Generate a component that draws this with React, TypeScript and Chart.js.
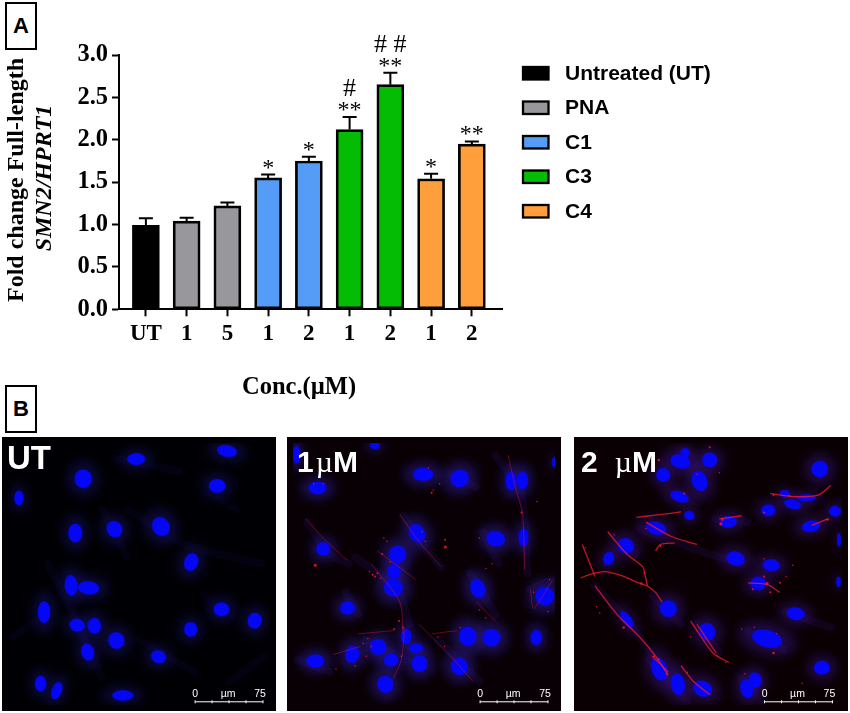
import React, { useEffect, useRef } from "react";
import { Chart, registerables } from "chart.js";
Chart.register(...registerables);

// ---- Panel A data ----
const categories = ["UT", "1", "5", "1", "2", "1", "2", "1", "2"];
const means = [0.99, 1.04, 1.22, 1.55, 1.75, 2.12, 2.65, 1.54, 1.95];
const errorTops = [1.075, 1.08, 1.26, 1.59, 1.8, 2.27, 2.79, 1.6, 1.98];
const groupOf = [0, 1, 1, 2, 2, 3, 3, 4, 4];
const groupNames = ["Untreated (UT)", "PNA", "C1", "C3", "C4"];
const groupColors = ["#000000", "#98989c", "#559cf7", "#04bc04", "#ff9f3c"];
const stars = ["", "", "", "*", "*", "**", "**", "*", "**"];
const hashes = ["", "", "", "", "", "#", "# #", "", ""];
const yTicks = [0, 0.5, 1, 1.5, 2, 2.5, 3];

// ---- Panel B data: nuclei as [x, y, halfLength x, halfLength y, angle], read in 3x crop units ----
const utNuclei = [[692,47,29,17,10],[407,72,26,17,0],[241,134,25,27,0],[661,156,24,20,0],[39,194,13,21,0],[216,304,20,27,0],[339,292,22,24,-30],[485,284,25,29,-30],[580,395,20,26,20],[203,468,18,30,-5],[258,476,31,19,5],[118,552,18,32,0],[675,543,23,20,0],[222,593,22,18,10],[276,595,19,23,0],[779,579,20,23,10],[578,606,19,21,0],[345,641,23,24,-20],[255,677,18,25,-15],[477,692,22,18,20],[107,776,16,23,0],[158,798,14,26,20],[365,813,31,15,0]];
const oneNuclei = [[413,120,30,19,0],[528,133,27,25,-25],[689,141,16,27,0],[725,139,16,26,0],[16,58,11,26,0],[262,30,14,10,0],[82,163,26,18,0],[394,305,22,28,-30],[641,322,27,22,15],[728,318,14,26,0],[100,354,20,20,0],[333,371,25,25,-30],[322,424,19,21,0],[320,475,28,26,30],[585,478,21,29,-20],[795,502,27,27,-10],[176,539,21,19,0],[360,628,15,23,0],[553,628,25,28,-10],[628,632,26,25,15],[768,631,16,22,0],[272,661,24,23,20],[191,684,20,25,10],[75,705,26,19,0],[313,702,21,19,0],[391,665,20,14,0],[402,714,23,24,0],[527,722,24,26,-30],[295,778,23,25,-20],[825,82,6,14,0]];
const twoNuclei = [[343,52,13,13,0],[328,80,30,20,15],[420,75,22,21,10],[274,122,20,20,0],[388,141,22,30,-20],[765,104,24,24,0],[325,190,28,15,20],[655,180,14,9,0],[722,194,27,10,0],[680,214,25,13,15],[604,233,20,17,0],[813,236,17,15,0],[356,249,15,12,20],[478,269,25,17,-5],[252,289,30,18,15],[738,283,27,16,-10],[157,344,24,21,25],[825,325,5,20,0],[501,384,27,20,15],[613,405,25,17,5],[824,457,6,15,0],[572,462,23,19,0],[103,384,15,19,20],[290,541,25,24,30],[690,557,26,18,10],[160,575,12,28,-35],[412,613,23,26,-25],[600,635,45,25,15],[262,730,22,35,-20],[772,726,23,20,0],[320,778,20,32,-10],[398,792,28,22,25],[536,792,18,27,-15],[563,765,18,22,-15]];

// faint cell bodies, [x0,y0,x1,y1,...]
const utCells = [[130,400,230,600,300,760],[300,230,380,380],[420,640,590,740],[620,500,700,560],[380,230,560,340,800,400],[700,770,810,690],[20,630,120,560],[640,180,720,230],[340,70,540,110],[210,560,270,720]];
const oneCells = [[50,270,120,370,180,400],[350,250,420,350,470,410],[200,380,330,480,370,590],[560,430,640,560],[460,640,590,770],[640,60,720,180,740,430],[20,700,120,740],[500,120,580,160],[170,490,210,560],[750,480,820,450],[600,300,650,400],[230,640,400,720]];
const twoCells = [[60,470,170,590,250,700],[240,500,330,590],[200,290,360,350,520,400],[540,610,650,670],[110,310,190,370],[380,590,450,680],[520,760,580,830],[230,700,300,780,350,830],[440,260,540,270],[660,550,800,600]];

// red fibres
const oneFibres = [[45,260,100,320,175,390],[340,245,400,330,470,410],[680,60,705,170,725,240,732,420],[215,660,130,685],[400,590,500,690,570,770],[250,400,340,520,350,620],[270,360,390,450],[580,520,640,580],[750,480,760,540,820,450],[355,600,345,700,320,760],[210,620,320,610],[440,620,520,610]];
const twoFibres = [[15,445,50,432,95,425,150,440,190,458,225,470],[100,300,160,370,210,410,218,440,225,470],[190,255,250,248,330,238],[220,270,300,315,380,340],[250,360,265,340,310,335],[225,470,250,490,270,520],[60,470,130,560,200,630,250,690,290,750],[360,580,430,680,480,710],[610,180,680,190,760,185,800,155],[740,280,790,260],[540,460,600,465,640,490],[330,720,370,770,420,810],[240,690,290,740],[450,260,520,250],[380,590,440,680],[20,340,60,440]];

// red specks [x, y, size]
const oneSpecks = [[75,405,3],[482,325,2],[483,348,3],[255,435,2],[262,440,2],[270,430,2],[285,370,2],[338,580,2],[722,240,2],[440,178,2],[445,170,1.5],[350,600,2],[322,606,2],[240,635,1.5],[225,650,1.5],[345,690,1.5],[200,720,1.5],[140,730,1.5],[465,150,1.5],[430,100,1.5],[70,150,1.5],[100,150,1.5],[410,300,1.5],[300,330,1.5],[290,320,1.5],[420,330,1.5],[590,320,1.5],[630,400,1.5],[610,415,1.5],[760,490,1.5],[810,450,1.5],[805,550,1.5],[460,630,1.5],[530,600,1.5],[480,660,1.5],[590,545,1.5],[610,570,1.5],[245,425,1.5],[280,445,1.5],[310,395,1.5],[250,660,1.5],[235,690,1.5],[770,205,1.5]];
const twoSpecks = [[455,275,3],[460,262,2.5],[600,462,3],[590,440,2],[620,680,2.5],[150,600,2.5],[420,35,2],[260,75,2.5],[790,262,2.5],[215,430,2],[205,462,2.5],[265,345,2],[590,240,2],[670,188,2],[620,185,2],[680,405,1.5],[640,460,2],[520,605,1.5],[560,600,1.5],[630,620,1.5],[710,775,1.5],[530,745,1.5],[350,740,1.5],[360,630,1.5],[470,710,1.5],[75,555,1.5],[65,535,1.5],[245,690,2],[260,700,2],[285,745,2],[340,180,2],[450,115,1.5],[380,120,1.5],[220,290,1.5],[120,310,1.5],[30,350,1.5],[590,385,1.5],[660,440,1.5],[555,480,2],[610,490,2],[380,610,1.5]];

function serif(size: number, style = "bold") { return `${style} ${size}px "Liberation Serif"`; }

const panelAPlugin = {
  id: "panelA",
  afterDatasetsDraw(chart: any) {
    const { ctx, scales } = chart;
    const { x, y } = scales;
    ctx.save();
    ctx.strokeStyle = "#000";
    ctx.lineWidth = 2;
    ctx.fillStyle = "#000";
    categories.forEach((_, i) => {
      const px = x.getPixelForValue(i);
      const top = y.getPixelForValue(errorTops[i]);
      const base = y.getPixelForValue(means[i]);
      ctx.beginPath();
      ctx.moveTo(px, base); ctx.lineTo(px, top);
      ctx.moveTo(px - 7, top); ctx.lineTo(px + 7, top);
      ctx.stroke();
      ctx.textAlign = "center";
      ctx.textBaseline = "alphabetic";
      if (stars[i]) {
        ctx.font = '24px "Liberation Serif"';
        ctx.fillText(stars[i], px, top);
      }
      if (hashes[i]) {
        ctx.font = '26px "Liberation Serif"';
        ctx.fillText(hashes[i], px, top - 21);
      }
    });
    // y title, two lines
    ctx.textAlign = "center";
    ctx.textBaseline = "middle";
    ctx.save();
    ctx.translate(17, 180);
    ctx.rotate(-Math.PI / 2);
    ctx.font = serif(24);
    ctx.fillText("Fold change Full-length", 0, 0);
    ctx.restore();
    ctx.save();
    ctx.translate(45, 178);
    ctx.rotate(-Math.PI / 2);
    ctx.font = serif(24, "italic bold");
    ctx.fillText("SMN2/HPRT1", 0, 0);
    ctx.restore();
    // x title
    ctx.font = serif(24.5);
    ctx.fillText("Conc.(µM)", 299, 388);
    // legend
    chart.data.datasets.forEach((ds: any, i: number) => {
      const ty = 73 + i * 34.5;
      ctx.fillStyle = ds.backgroundColor;
      ctx.fillRect(523, ty - 6, 25.5, 12.5);
      ctx.strokeStyle = "#000";
      ctx.lineWidth = 2.3;
      ctx.strokeRect(523, ty - 6, 25.5, 12.5);
      ctx.fillStyle = "#000";
      ctx.textAlign = "left";
      ctx.textBaseline = "middle";
      ctx.font = 'bold 21px "Liberation Sans"';
      ctx.fillText(ds.label, 565, ty + 1);
    });
    ctx.restore();
  },
};

function BarPanel() {
  const ref = useRef<HTMLCanvasElement | null>(null);
  useEffect(() => {
    const chart = new Chart(ref.current!, {
      type: "bar",
      data: {
        datasets: groupNames.map((label, g) => ({
          label,
          backgroundColor: groupColors[g],
          borderColor: "#000",
          borderWidth: 2.7,
          borderSkipped: false,
          barThickness: 27,
          grouped: false,
          data: means.map((v, i) => ({ x: i, y: v, g: groupOf[i] })).filter((d) => d.g === g),
        })),
      } as any,
      options: {
        responsive: false,
        animation: false,
        devicePixelRatio: 1,
        layout: { padding: { left: 0, right: 348, top: 55, bottom: 0 } },
        plugins: { legend: { display: false }, tooltip: { enabled: false } },
        scales: {
          x: {
            type: "linear",
            offset: false,
            min: -0.66,
            max: 8.74,
            afterBuildTicks: (s: any) => { s.ticks = categories.map((_, i) => ({ value: i })); },
            afterFit: (s: any) => { s.height = 100.7; },
            ticks: {
              autoSkip: false, maxRotation: 0, padding: 4, color: "#000",
              font: { family: "Liberation Serif", weight: "bold", size: 23 },
              callback: (v: any) => categories[v],
            },
            grid: { offset: false, drawOnChartArea: false, drawTicks: true, tickLength: 7, tickWidth: 2, tickColor: "#000" },
            border: { color: "#000", width: 2 },
          },
          y: {
            min: 0,
            max: 3,
            afterBuildTicks: (s: any) => { s.ticks = yTicks.map((value) => ({ value })); },
            afterFit: (s: any) => { s.width = 119; },
            ticks: {
              padding: 4, color: "#000",
              font: { family: "Liberation Serif", weight: "bold", size: 24.5 },
              callback: (v: any) => Number(v).toFixed(1),
            },
            grid: { drawOnChartArea: false, drawTicks: true, tickLength: 7, tickWidth: 2, tickColor: "#000" },
            border: { color: "#000", width: 2 },
          },
        },
      } as any,
      plugins: [panelAPlugin],
    });
    return () => chart.destroy();
  }, []);
  return <canvas ref={ref} width={850} height={410} style={{ position: "absolute", left: 0, top: 0 }} />;
}

function sprite(rx: number, ry: number, color: string, blur: number) {
  const pad = Math.ceil(blur * 3) + 2;
  const r = Math.ceil(Math.max(rx, ry)) + pad;
  const c = document.createElement("canvas");
  c.width = 2 * r; c.height = 2 * r;
  const g = c.getContext("2d")!;
  g.filter = `blur(${blur}px)`;
  g.fillStyle = color;
  g.beginPath();
  g.ellipse(r, r, rx, ry, 0, 0, Math.PI * 2);
  g.fill();
  return c;
}

function polyData(flat: number[]) {
  const pts: any[] = [];
  for (let i = 0; i < flat.length; i += 2) pts.push({ x: flat[i], y: flat[i + 1] });
  return pts;
}

function makeScalePlugin(ox: number) {
  return {
    id: "scaleBar",
    afterDatasetsDraw(chart: any) {
      const { ctx, scales } = chart;
      const { x, y } = scales;
      const l = x.getPixelForValue(592 + ox);
      const r = x.getPixelForValue(805 + ox);
      const b = y.getPixelForValue(833);
      ctx.save();
      ctx.strokeStyle = "#fff";
      ctx.fillStyle = "#fff";
      ctx.lineWidth = 1;
      ctx.beginPath();
      ctx.moveTo(l, b); ctx.lineTo(r, b);
      for (let k = 0; k <= 4; k++) {
        const px = l + ((r - l) * k) / 4;
        ctx.moveTo(px, b - 1.5); ctx.lineTo(px, b + 1.5);
      }
      ctx.stroke();
      ctx.font = '10.5px "Liberation Sans"';
      ctx.textAlign = "center";
      ctx.textBaseline = "middle";
      const ty = y.getPixelForValue(810);
      ctx.fillText("0", l, ty);
      ctx.fillText("µm", (l + r) / 2 - 1, ty);
      ctx.fillText("75", r - 3, ty);
      ctx.restore();
    },
  };
}

function Micro({ left, ox, nuclei, cells, fibres, specks, bg, haloColor, cellColor, fibreColor, fibreWidth, label }: any) {
  const ref = useRef<HTMLCanvasElement | null>(null);
  useEffect(() => {
    const nucPts = nuclei.map((n: number[]) => ({ x: n[0], y: n[1] }));
    const nucSprites = nuclei.map((n: number[]) => sprite(n[2] / 3 + 0.4, n[3] / 3 + 0.4, "#0606f6", 0.6));
    const haloSprites = nuclei.map((n: number[]) => sprite((n[2] / 3) * 2, (n[3] / 3) * 2, haloColor, 5));
    const rot = (ctx: any) => nuclei[ctx.dataIndex]?.[4] ?? 0;
    const ds: any[] = [];
    ds.push({
      data: specks.map((s: number[]) => ({ x: s[0], y: s[1] })),
      pointRadius: specks.map((s: number[]) => s[2] * 0.5),
      pointBackgroundColor: "rgba(255,20,40,0.85)",
      pointBorderWidth: 0,
    });
    fibres.forEach((f: number[]) => ds.push({
      data: polyData(f), showLine: true, pointRadius: 0, tension: 0.25,
      borderColor: fibreColor, borderWidth: fibreWidth,
    }));
    ds.push({ data: nucPts, pointStyle: (c: any) => nucSprites[c.dataIndex], rotation: rot, pointRadius: 5 });
    ds.push({ data: nucPts, pointStyle: (c: any) => haloSprites[c.dataIndex], rotation: rot, pointRadius: 5 });
    cells.forEach((f: number[]) => ds.push({
      data: polyData(f), showLine: true, pointRadius: 0, tension: 0.3,
      borderColor: cellColor, borderWidth: 8, borderCapStyle: "round",
    }));
    const chart = new Chart(ref.current!, {
      type: "scatter",
      data: { datasets: ds },
      options: {
        responsive: false,
        animation: false,
        devicePixelRatio: 1,
        layout: { padding: 0 },
        plugins: { legend: { display: false }, tooltip: { enabled: false } },
        scales: {
          x: { display: false, min: ox, max: ox + 822 },
          y: { display: false, min: 22, max: 843, reverse: true },
        },
      } as any,
      plugins: [makeScalePlugin(0)],
    });
    return () => chart.destroy();
  }, []);
  return (
    <>
      <canvas ref={ref} width={274} height={274}
        style={{ position: "absolute", left, top: 437, background: bg, display: "block" }} />
      {label}
    </>
  );
}

const boxStyle: React.CSSProperties = {
  position: "absolute", left: 5, width: 28, height: 44, border: "2.4px solid #000",
  font: 'bold 22px "Liberation Sans"', textAlign: "center", lineHeight: "44px", color: "#000", background: "#fff",
};
const labelStyle: React.CSSProperties = {
  position: "absolute", color: "#fff", font: 'bold 30px "Liberation Sans"', whiteSpace: "pre", lineHeight: "34px",
};
const mu: React.CSSProperties = { fontFamily: "Liberation Serif", fontWeight: 400, marginLeft: 2 };

export default function App() {
  return (
    <div style={{ position: "fixed", left: 0, top: 0, width: 850, height: 713, background: "#fff", overflow: "hidden" }}>
      <BarPanel />
      <div style={{ ...boxStyle, top: 2 }}>A</div>
      <div style={{ ...boxStyle, top: 385 }}>B</div>
      <Micro left={2} ox={5} nuclei={utNuclei} cells={utCells} fibres={[]} specks={[]} bg="#000004"
        haloColor="rgba(24,18,115,0.42)" cellColor="rgba(12,8,60,0.22)" fibreColor="#000" fibreWidth={1}
        label={<div style={{ ...labelStyle, left: 7, top: 441, fontSize: 33 }}>UT</div>} />
      <Micro left={287} ox={5} nuclei={oneNuclei} cells={oneCells} fibres={oneFibres} specks={oneSpecks} bg="#080004"
        haloColor="rgba(45,28,150,0.48)" cellColor="rgba(30,12,80,0.3)" fibreColor="rgba(225,25,50,0.4)" fibreWidth={1}
        label={<div style={{ ...labelStyle, left: 297, top: 445 }}>1<span style={mu}>µ</span>M</div>} />
      <Micro left={574} ox={13} nuclei={twoNuclei} cells={twoCells} fibres={twoFibres} specks={twoSpecks} bg="#0a0003"
        haloColor="rgba(55,18,130,0.44)" cellColor="rgba(32,10,80,0.3)" fibreColor="rgba(238,25,45,0.8)" fibreWidth={1.3}
        label={<div style={{ ...labelStyle, left: 581, top: 445 }}>2<span style={mu}>  µ</span>M</div>} />
    </div>
  );
}
